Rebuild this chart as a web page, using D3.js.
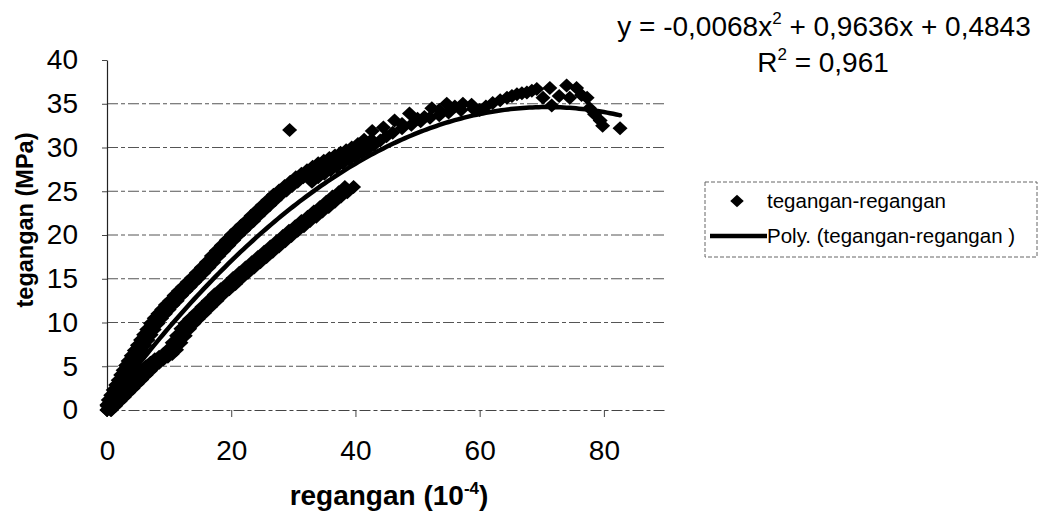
<!DOCTYPE html>
<html>
<head>
<meta charset="utf-8">
<script src="https://cdn.jsdelivr.net/npm/d3@7"></script>
<style>
  body { margin: 0; background: #fff; }
</style>
</head>
<body>
<svg id="chart" width="1044" height="521"></svg>
<script>
// first loading curve (upper band), two close passes
var bandAStress = [0,0.6,1.15,1.7,2.3,2.85,3.4,4.0,4.55,5.1,5.6,6.2,6.8,7.4,8.0,8.6,9.2,9.9,10.5,11.0,
  11.5,12.0,12.5,13.1,13.6,14.1,14.6,15.1,15.7,16.3,16.9,17.6,18.2,18.8,19.4,20.0,20.55,21.1,21.6,22.2,
  22.8,23.4,24.0,24.6,25.1,25.6,26.1,26.6,27.0,27.4,27.8,28.2,28.5,28.8,29.1,29.4,29.7,30.0,30.4,30.9];
var bandAStrainLeft = [0,0,0.2,0.6,1.0,1.4,1.8,2.2,2.6,3.0,3.4,3.9,4.4,4.9,5.4,5.9,6.4,7.0,7.6,8.2,
  8.8,9.4,10.1,10.8,11.5,12.2,12.9,13.6,14.4,15.2,16.0,16.8,17.6,18.4,19.2,20.0,20.8,21.6,22.4,23.2,
  24.1,25.0,25.9,26.8,27.7,28.6,29.5,30.4,31.3,32.2,33.1,34.0,34.9,35.8,36.7,37.6,38.5,39.4,40.4,41.4];
var bandAStrainRight = [0.6,1.0,1.4,1.8,2.2,2.6,3.0,3.4,3.8,4.2,4.6,5.1,5.6,6.1,6.6,7.1,7.6,8.2,8.8,9.4,
  10.0,10.6,11.3,12.0,12.7,13.4,14.1,14.8,15.6,16.4,17.2,18.0,18.8,19.6,20.4,21.2,22.0,22.8,23.6,24.4,
  25.3,26.2,27.1,28.0,28.9,29.8,30.7,31.6,32.5,33.4,34.3,35.2,36.1,37.0,37.9,38.8,39.7,40.6,41.6,42.6];

// lower band (ends near 26 MPa)
var bandBStress = [0,0.5,1.0,1.5,2.0,2.5,3.0,3.5,4.0,4.5,5.0,5.4,5.8,6.1,6.4,6.9,7.7,8.5,9.3,9.9,
  10.4,11.1,11.8,12.5,13.2,13.8,14.4,15.1,15.7,16.3,16.9,17.5,18.1,18.7,19.3,19.9,20.5,21.0,21.6,22.1,
  22.7,23.2,23.8,24.4,24.9,25.5];
var bandBStrainLeft = [0,0,0.7,1.4,2.1,2.8,3.5,4.2,4.9,5.6,6.3,7.0,7.7,8.4,9.1,9.8,10.5,11.2,11.9,12.6,
  13.3,14.3,15.3,16.3,17.3,18.3,19.3,20.3,21.3,22.3,23.3,24.3,25.3,26.3,27.3,28.3,29.3,30.3,31.3,32.3,
  33.3,34.3,35.3,36.3,37.3,38.3];
var bandBStrainRight = [0.7,1.4,2.1,2.8,3.5,4.2,4.9,5.6,6.3,7.0,7.7,8.4,9.1,9.8,10.5,11.2,11.9,12.6,13.3,14.0,
  14.7,15.7,16.7,17.7,18.7,19.7,20.7,21.7,22.7,23.7,24.7,25.7,26.7,27.7,28.7,29.7,30.7,31.7,32.7,33.7,
  34.7,35.7,36.7,37.7,38.7,39.7];

// points near the peak and after it  [regangan, tegangan]
var peakPoints = [
  [33.0,26.1],[34.0,26.6],[35.0,27.0],[36.0,27.4],[37.0,27.8],[38.0,28.2],[39.0,28.6],[40.0,29.0],
  [41.0,29.4],[42.0,29.8],[43.0,30.3],[44.0,30.8],[45.0,31.3],[46.0,31.7],[47.5,32.2],[49.0,32.6],
  [50.5,33.0],[52.0,33.4],[53.5,33.7],[55.0,34.0],[57.0,34.3],[59.0,34.4],
  [42.7,31.9],[44.5,32.3],[46.3,33.1],[47.5,32.7],[48.7,33.9],[50.0,33.3],[51.1,33.5],[52.3,34.5],
  [53.5,34.3],[54.7,35.0],[56.0,34.7],[57.3,35.0],[58.7,34.9],[60.0,34.3],[61.0,34.7],[62.1,35.1],
  [63.3,35.4],[64.4,35.7],[65.2,35.9],[66.0,36.1],[66.8,36.2],[67.6,36.3],[68.4,36.5],[69.2,36.7],
  [70.2,35.7],[71.3,36.8],[71.6,34.8],[72.8,35.9],[74.0,37.1],[74.5,35.7],[75.6,36.8],[76.4,36.0],
  [77.3,35.7],[77.7,34.5],[78.5,33.8],[79.4,33.1],[79.8,32.5],[82.6,32.2]
];
var strayPoints = [[29.4,32.0]];

// polynomial trendline as printed on the chart
var trendCoef = [-0.0068, 0.9636, 0.4843];
var trendSpan = [0, 82.6];

var xTicks = [0, 20, 40, 60, 80];
var yTicks = [0, 5, 10, 15, 20, 25, 30, 35, 40];

var font = "'Liberation Sans', Arial, Helvetica, sans-serif";
var svg = d3.select("#chart");

var x = d3.scaleLinear().domain([0, 90]).range([107, 666]);
var y = d3.scaleLinear().domain([0, 40]).range([410, 60]);

// collect all the series points
var points = [];
bandAStress.forEach(function(s, i){
    points.push([bandAStrainLeft[i], s]);
    points.push([bandAStrainRight[i], s]);
});
bandBStress.forEach(function(s, i){
    points.push([bandBStrainLeft[i], s]);
    points.push([bandBStrainRight[i], s]);
});
peakPoints.forEach(function(p){ points.push(p); });
strayPoints.forEach(function(p){ points.push(p); });

// gridlines
svg.append("g").selectAll("line")
    .data(yTicks.filter(function(v){ return v > 0 && v < 40; }))
    .join("line")
    .attr("x1", x(0)).attr("x2", x(90) - 2)
    .attr("y1", function(d){ return y(d); })
    .attr("y2", function(d){ return y(d); })
    .attr("stroke", "#555")
    .attr("stroke-width", 1)
    .attr("stroke-dasharray", "11,3,4,3");

// x axis
var xAxis = svg.append("g")
    .attr("transform", "translate(0," + y(0) + ")")
    .call(d3.axisBottom(x).tickValues(xTicks).tickSize(7).tickSizeOuter(0).tickPadding(23));
xAxis.select(".domain").attr("stroke", "#444").attr("stroke-dasharray", "11,3,4,3");
xAxis.selectAll(".tick line").attr("stroke", "#444");
xAxis.selectAll("text").style("font-family", font).style("font-size", "28px").attr("fill", "#000");

// y axis
var yAxis = svg.append("g")
    .attr("transform", "translate(" + x(0) + ",0)")
    .call(d3.axisLeft(y).tickValues(yTicks).tickSize(5).tickSizeOuter(0).tickPadding(24));
yAxis.select(".domain").attr("stroke", "#222").attr("stroke-width", 1.2);
yAxis.selectAll(".tick line").attr("stroke", "#444");
yAxis.selectAll("text").style("font-family", font).style("font-size", "28px").attr("fill", "#000");

// markers
var diamond = "M0,-7L7.5,0L0,7L-7.5,0Z";
svg.append("g").selectAll("path")
    .data(points)
    .join("path")
    .attr("d", diamond)
    .attr("transform", function(d){ return "translate(" + x(d[0]) + "," + y(d[1]) + ")"; })
    .attr("fill", "#000");

// trendline
var trendX = d3.range(trendSpan[0], trendSpan[1], 0.5).concat([trendSpan[1]]);
var line = d3.line()
    .x(function(d){ return x(d); })
    .y(function(d){ return y(trendCoef[0] * d * d + trendCoef[1] * d + trendCoef[2]); });
svg.append("path")
    .datum(trendX)
    .attr("d", line)
    .attr("fill", "none")
    .attr("stroke", "#000")
    .attr("stroke-width", 4.5)
    .attr("stroke-linecap", "round");

// axis titles
svg.append("text")
    .attr("x", 389).attr("y", 505)
    .attr("text-anchor", "middle")
    .style("font-family", font).style("font-size", "28px").style("font-weight", "bold")
    .call(function(t){
        t.append("tspan").text("regangan (10");
        t.append("tspan").attr("dy", -11).style("font-size", "17px").text("-4");
        t.append("tspan").attr("dy", 11).text(")");
    });

svg.append("text")
    .attr("transform", "translate(33,220) rotate(-90)")
    .attr("text-anchor", "middle")
    .style("font-family", font).style("font-size", "23.5px").style("font-weight", "bold")
    .text("tegangan (MPa)");

// trendline equation
var eq = svg.append("text")
    .attr("x", 824).attr("y", 36)
    .attr("text-anchor", "middle")
    .style("font-family", font).style("font-size", "28px");
eq.append("tspan").text("y = -0,0068x");
eq.append("tspan").attr("dy", -12).style("font-size", "17px").text("2");
eq.append("tspan").attr("dy", 12).text(" + 0,9636x + 0,4843");

var r2 = svg.append("text")
    .attr("x", 823).attr("y", 72)
    .attr("text-anchor", "middle")
    .style("font-family", font).style("font-size", "28px");
r2.append("tspan").text("R");
r2.append("tspan").attr("dy", -12).style("font-size", "17px").text("2");
r2.append("tspan").attr("dy", 12).text(" = 0,961");

// legend
var legend = svg.append("g");
legend.append("rect")
    .attr("x", 705).attr("y", 182).attr("width", 332).attr("height", 75)
    .attr("fill", "#fff")
    .attr("stroke", "#666").attr("stroke-width", 1).attr("stroke-dasharray", "4,2");
legend.append("path")
    .attr("d", diamond)
    .attr("transform", "translate(737,201) scale(0.9)")
    .attr("fill", "#000");
legend.append("text")
    .attr("x", 767).attr("y", 208)
    .style("font-family", font).style("font-size", "20.5px")
    .text("tegangan-regangan");
legend.append("line")
    .attr("x1", 710).attr("x2", 767).attr("y1", 236).attr("y2", 236)
    .attr("stroke", "#000").attr("stroke-width", 4.5);
legend.append("text")
    .attr("x", 767).attr("y", 243)
    .style("font-family", font).style("font-size", "20.5px")
    .text("Poly. (tegangan-regangan )");
</script>
</body>
</html>
